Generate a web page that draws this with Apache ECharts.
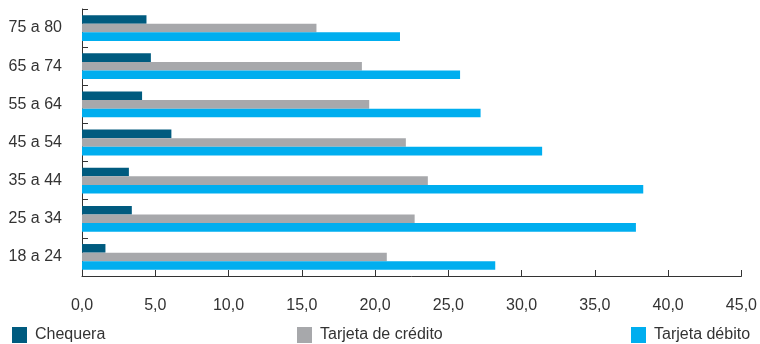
<!DOCTYPE html>
<html>
<head>
<meta charset="utf-8">
<script src="https://cdn.jsdelivr.net/npm/echarts@6/dist/echarts.min.js"></script>
<style>html,body{margin:0;padding:0;background:#fff}#c{width:760px;height:344px}</style>
</head>
<body>
<div id="c"></div>
<script>
const categories = ['75 a 80', '65 a 74', '55 a 64', '45 a 54', '35 a 44', '25 a 34', '18 a 24'];
const chequera = [4.4, 4.7, 4.1, 6.1, 3.2, 3.4, 1.6];
const tarjetaCredito = [16.0, 19.1, 19.6, 22.1, 23.6, 22.7, 20.8];
const tarjetaDebito = [21.7, 25.8, 27.2, 31.4, 38.3, 37.8, 28.2];
const xTickLabels = ['0,0', '5,0', '10,0', '15,0', '20,0', '25,0', '30,0', '35,0', '40,0', '45,0'];
const seriesNames = ['Chequera', 'Tarjeta de crédito', 'Tarjeta débito'];
const colors = ['#005b7f', '#a7a8ab', '#00aeef'];

const font = 'Liberation Sans, Arial, Helvetica, sans-serif';
const chart = echarts.init(document.getElementById('c'));
const legendLefts = [7, 292, 626];
chart.setOption({
  animation: false,
  color: colors,
  grid: { left: 82, right: 18, top: 9, bottom: 68, containLabel: false },
  legend: seriesNames.map((n, i) => ({
    data: [n], left: legendLefts[i], top: 322, itemWidth: 15, itemHeight: 16,
    icon: 'rect', textStyle: { fontFamily: font, fontSize: 16, color: '#333', padding: [0, 0, 0, 3] }
  })),
  xAxis: {
    type: 'value', min: 0, max: 45, interval: 5,
    splitLine: { show: false },
    axisLine: { show: true, lineStyle: { color: '#333', width: 1 } },
    axisTick: { show: true, inside: true, length: 6, lineStyle: { color: '#333' } },
    axisLabel: { margin: 22, fontFamily: font, fontSize: 16, color: '#333',
      formatter: v => xTickLabels[Math.round(v / 5)] }
  },
  yAxis: {
    type: 'category', data: categories, inverse: true,
    axisLine: { show: true, lineStyle: { color: '#333', width: 1 } },
    axisTick: { show: true, inside: true, length: 6, lineStyle: { color: '#333' } },
    axisLabel: { margin: 20, fontFamily: font, fontSize: 16, color: '#333' }
  },
  series: [
    { name: seriesNames[0], type: 'bar', data: chequera, barWidth: 8.6, barGap: '0%' },
    { name: seriesNames[1], type: 'bar', data: tarjetaCredito, barWidth: 8.6, barGap: '0%' },
    { name: seriesNames[2], type: 'bar', data: tarjetaDebito, barWidth: 8.6, barGap: '0%' }
  ]
});
</script>
</body>
</html>
